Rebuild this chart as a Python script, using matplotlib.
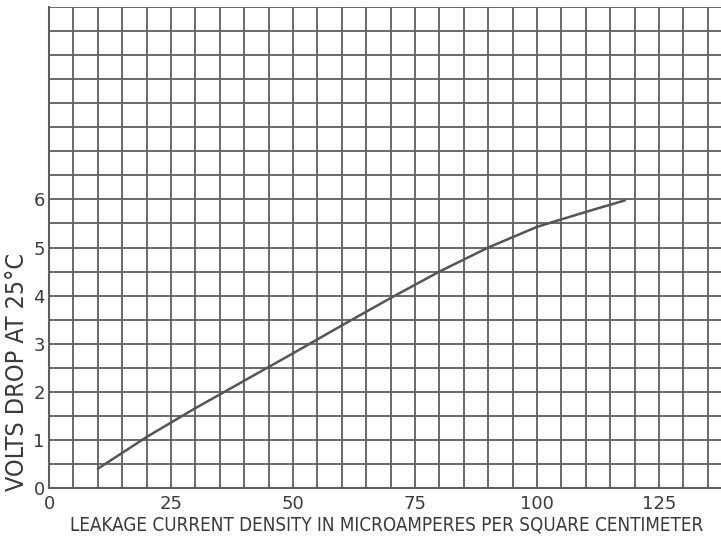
import matplotlib.pyplot as plt
import numpy as np

# leakage current density (microamperes / sq cm) vs volts drop at 25 C
current_density = [10, 20, 30, 40, 50, 60, 70, 80, 90, 100, 110, 118]
volts_drop = [0.4, 1.06, 1.66, 2.23, 2.80, 3.38, 3.95, 4.5, 5.0, 5.43, 5.74, 5.98]

x_labels = [0, 25, 50, 75, 100, 125]
y_labels = [0, 1, 2, 3, 4, 5, 6]

ink = '#5e5e5e'
text_ink = '#3a3a3a'

fig = plt.figure(figsize=(7.21, 5.44), dpi=100)
ax = fig.add_axes([0.068, 0.103, 0.932, 0.884])

ax.plot(current_density, volts_drop, color='#555555', lw=1.8,
        solid_capstyle='round', solid_joinstyle='round')

ax.set_xlim(0, 137.7)
ax.set_ylim(0, 10)
ax.set_xticks(x_labels)
ax.set_yticks(y_labels)
ax.set_xticks(np.arange(0, 140, 5), minor=True)
ax.set_yticks(np.arange(0, 10.5, 0.5), minor=True)
ax.grid(which='both', color=ink, lw=1.3)
ax.set_axisbelow(True)
ax.tick_params(which='both', length=0)
ax.tick_params(axis='x', pad=5, labelsize=13, labelcolor=text_ink)
ax.tick_params(axis='y', pad=3, labelsize=13, labelcolor=text_ink)

for side in ['top', 'right']:
    ax.spines[side].set_visible(False)
for side in ['left', 'bottom']:
    ax.spines[side].set_color(ink)
    ax.spines[side].set_linewidth(1.5)

ax.set_xlabel('LEAKAGE CURRENT DENSITY IN MICROAMPERES PER SQUARE CENTIMETER',
              fontsize=13.5, color=text_ink, fontstretch='condensed')
ax.xaxis.set_label_coords(0.503, -0.058)
ax.set_ylabel('VOLTS DROP AT 25°C', fontsize=18, color=text_ink,
              fontstretch='condensed')
ax.yaxis.set_label_coords(-0.03, 0.241)

fig.savefig('out.png', dpi=100)
